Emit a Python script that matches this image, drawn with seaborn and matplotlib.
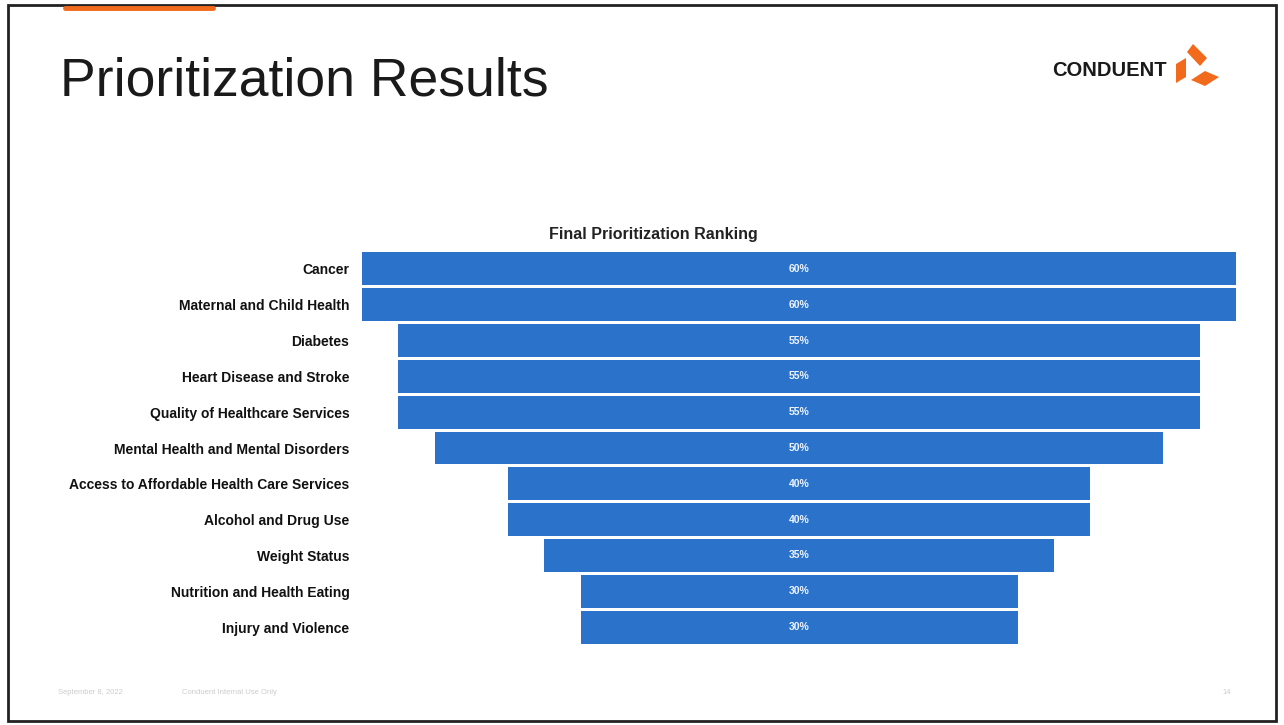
import pandas as pd
import matplotlib.pyplot as plt
import seaborn as sns
from matplotlib.patches import Polygon, Rectangle
from matplotlib.lines import Line2D

categories = [
    "Cancer",
    "Maternal and Child Health",
    "Diabetes",
    "Heart Disease and Stroke",
    "Quality of Healthcare Services",
    "Mental Health and Mental Disorders",
    "Access to Affordable Health Care Services",
    "Alcohol and Drug Use",
    "Weight Status",
    "Nutrition and Health Eating",
    "Injury and Violence",
]
scores = [60, 60, 55, 55, 55, 50, 40, 40, 35, 30, 30]

BLUE = "#2B72CB"
ORANGE = "#F26A1B"

sns.set_theme(style="white")
plt.rcParams['font.family'] = ['Liberation Sans', 'DejaVu Sans']

W, H = 1284, 725
fig = plt.figure(figsize=(W / 100, H / 100), dpi=100)
fig.patch.set_facecolor("white")

def fx(px):
    return px / W

def fy(py):
    return 1 - py / H

# chart axes: x from 362 to 1236 px, y from 251 to 645 px
ax = fig.add_axes([fx(362), fy(645), fx(1236) - fx(362), fy(251) - fy(645)])
df = pd.DataFrame({"category": categories, "score": scores})
sns.barplot(data=df, y="category", x="score", orient="h", color=BLUE,
            saturation=1, width=0.92, ax=ax, edgecolor="none")

# recentre bars to make the funnel
for p, v in zip(ax.patches, scores):
    p.set_x(-v / 2)
    ax.text(0, p.get_y() + p.get_height() / 2, f"{v}%", ha="center",
            va="center", color="#eef4ff", fontsize=7.5, fontweight="bold")

ax.set_xlim(-30, 30)
ax.set_ylim(len(categories) - 0.5, -0.5)
ax.set_xlabel("")
ax.set_ylabel("")
ax.set_xticks([])
ax.tick_params(axis="y", length=0, pad=9, labelsize=10)
for lbl in ax.get_yticklabels():
    lbl.set_fontweight("bold")
    lbl.set_color("#111111")
sns.despine(ax=ax, left=True, bottom=True)
ax.set_facecolor("none")

fig.text(fx(653), fy(235), "Final Prioritization Ranking", ha="center",
         va="center", fontsize=11.5, fontweight="bold", color="#222222")

# slide title
fig.text(fx(60), fy(82), "Prioritization Results", ha="left", va="center",
         fontsize=38.5, color="#1a1a1a")

# logo
fig.text(fx(1167), fy(70), "CONDUENT", ha="right", va="center",
         fontsize=14.5, fontweight="heavy", color="#1a1a1a")
shapes = [
    [(1187, 52), (1193, 44), (1207, 58), (1200, 66)],
    [(1176, 64), (1186, 58), (1186, 77), (1176, 83)],
    [(1191, 80), (1205, 71), (1219, 77), (1205, 86)],
]
for pts in shapes:
    fig.patches.append(Polygon([(fx(x), fy(y)) for x, y in pts], closed=True,
                               transform=fig.transFigure, facecolor=ORANGE,
                               edgecolor="none"))

# slide frame and accent line
fig.patches.append(Rectangle((fx(8), fy(721)), fx(1276) - fx(8), fy(5) - fy(721),
                             transform=fig.transFigure, fill=False,
                             edgecolor="#222222", linewidth=2))
fig.lines.append(Line2D([fx(65), fx(213)], [fy(8), fy(8)],
                        transform=fig.transFigure, color=ORANGE, linewidth=3.5))

# footer
fig.text(fx(58), fy(692), "September 8, 2022", fontsize=5.5, color="#cccccc",
         va="center")
fig.text(fx(182), fy(692), "Conduent Internal Use Only", fontsize=5.5,
         color="#cccccc", va="center")
fig.text(fx(1222), fy(692), "14", fontsize=5.5, color="#cccccc", va="center")

fig.savefig("out.png", dpi=100)
